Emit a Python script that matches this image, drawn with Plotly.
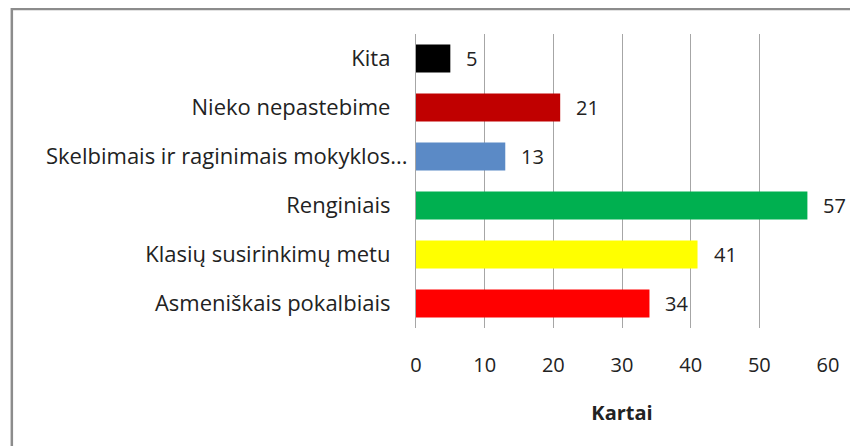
import plotly.graph_objects as go

# duomenys (iš apačios į viršų)
kategorijos = ["Asmeniškais pokalbiais", "Klasių susirinkimų metu", "Renginiais",
               "Skelbimais ir raginimais mokyklos...", "Nieko nepastebime", "Kita"]
reiksmes = [34, 41, 57, 13, 21, 5]
spalvos = ["#FF0000", "#FFFF00", "#00B050", "#5B8AC6", "#C00000", "#000000"]
x_ticks = [0, 10, 20, 30, 40, 50, 60]

# Excel label alignment: other labels end a bit left of the truncated one
ticktext = [k if k.endswith("...") else k + "\u00a0" * 3 for k in kategorijos]

fig = go.Figure(go.Bar(x=reiksmes, y=kategorijos, orientation="h",
                       marker=dict(color=spalvos, line=dict(width=0))))

for k, v in zip(kategorijos, reiksmes):
    fig.add_annotation(x=v, y=k, text=str(v), showarrow=False, xanchor="left",
                       xshift=14, font=dict(size=20, color="#222222"))

# page body has 8px margin, so everything shifted up/left by 8
fig.update_layout(
    width=858, height=446,
    margin=dict(l=408, r=38, t=26, b=126),
    paper_bgcolor="white", plot_bgcolor="white",
    font=dict(family="Open Sans", size=20, color="#222222"),
    bargap=0.43, showlegend=False,
    xaxis=dict(range=[0, 60], tickvals=x_ticks, showgrid=True, gridcolor="#A6A6A6",
               gridwidth=1, zeroline=False, showline=False, ticks="outside",
               ticklen=0, ticklabelstandoff=19,
               title=dict(text="<b>Kartai</b>", standoff=28, font=dict(size=20))),
    yaxis=dict(categoryorder="array", categoryarray=kategorijos,
               tickvals=kategorijos, ticktext=ticktext, showline=True,
               linecolor="#A6A6A6", linewidth=1, ticks="", ticklabelstandoff=3,
               tickfont=dict(size=22), showgrid=False),
)

# rėmelis aplink diagramą
fig.add_shape(type="rect", xref="paper", yref="paper",
              x0=-0.981, y0=-1, x1=2, y1=1.085,
              line=dict(color="#8C8C8C", width=2.5), layer="above")

fig.write_html("out.html")
